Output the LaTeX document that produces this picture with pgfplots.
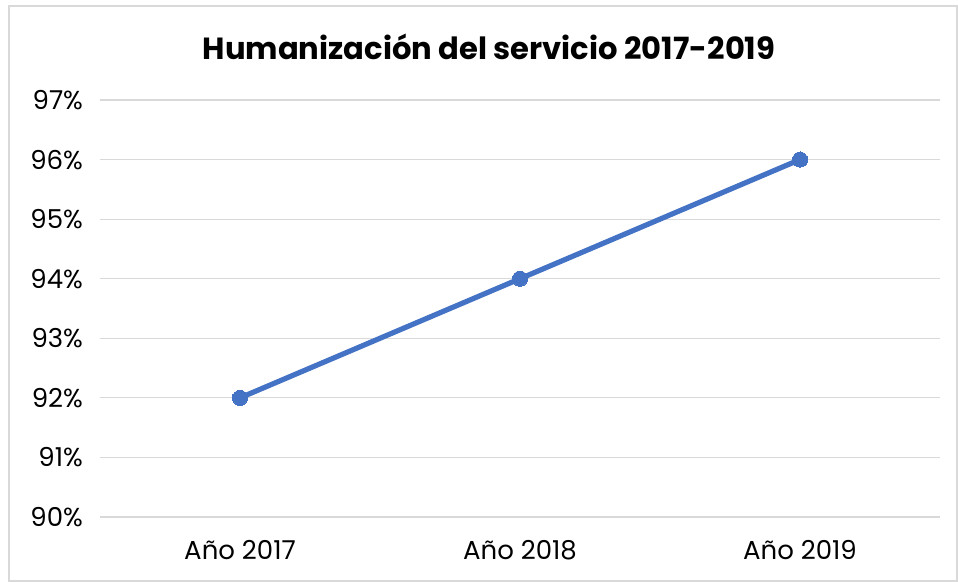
\documentclass[border=0pt]{standalone}
\usepackage{pgfplots}
\pgfplotsset{compat=1.18}
\usepackage{fontspec}
\setmainfont{Poppins}
\definecolor{lineblue}{RGB}{68,114,196}
\definecolor{gridgray}{RGB}{217,217,217}
\begin{document}
\begin{tikzpicture}
\path[use as bounding box] (0,0) rectangle (479pt,291pt);
\draw[gridgray, line width=0.8pt] (4.5pt,0.5pt) rectangle (478.5pt,288pt);
\node[font=\bfseries\fontsize{15.3}{18}\selectfont] at (244.5pt,267.5pt) {Humanización del servicio 2017-2019};
\begin{axis}[
  at={(50pt,32.5pt)}, anchor=south west,
  scale only axis, width=420pt, height=208.5pt,
  xmin=-0.5, xmax=2.5, ymin=90, ymax=97,
  xtick={0,1,2}, xticklabels={Año 2017, Año 2018, Año 2019},
  ytick={90,91,...,97},
  yticklabel={\pgfmathprintnumber{\tick}\%},
  /pgf/number format/assume math mode=true,
  ymajorgrids, grid style={gridgray, line width=0.6pt},
  axis line style={draw=none},
  axis x line*=bottom,
  x axis line style={gridgray, line width=0.6pt},
  major tick length=0pt,
  tick label style={font=\fontsize{13}{15}\selectfont, text=black},
  yticklabel style={xshift=-5pt},
  xticklabel style={yshift=-8pt},
  clip=false,
]
\addplot[lineblue, line width=2.6pt, mark=*, mark size=3.8pt, mark options={fill=lineblue, draw=lineblue, line width=0pt}] coordinates {(0,92) (1,94) (2,96)};
\end{axis}
\end{tikzpicture}
\end{document}
